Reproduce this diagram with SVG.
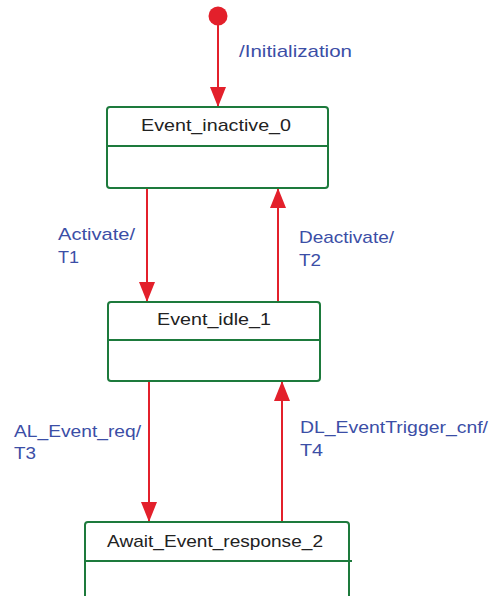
<svg xmlns="http://www.w3.org/2000/svg" width="490" height="596" viewBox="0 0 490 596">
<style>
.box{fill:#fff;stroke:#1d7a3c;stroke-width:2}
.div{stroke:#1d7a3c;stroke-width:2}
.name{font-family:"Liberation Sans",Arial,sans-serif;font-size:17px;fill:#222}
.lbl{font-family:"Liberation Sans",Arial,sans-serif;font-size:17px;fill:#3b4ea6}
.edge{stroke:#e3202b;stroke-width:2;fill:none}
</style>
<defs>
<marker id="arr" markerUnits="userSpaceOnUse" markerWidth="20" markerHeight="16" refX="20" refY="8" orient="auto">
<path d="M0,0 L20,8 L0,16 z" fill="#e3202b"/>
</marker>
</defs>
<rect width="490" height="596" fill="#fff"/>
<g id="connectors">
<circle cx="218" cy="16" r="9.5" fill="#e3202b"/>
<line class="edge" x1="218" y1="20" x2="218" y2="107" marker-end="url(#arr)"/>
<line class="edge" x1="147" y1="188" x2="147" y2="302" marker-end="url(#arr)"/>
<line class="edge" x1="278" y1="302" x2="278" y2="188" marker-end="url(#arr)"/>
<line class="edge" x1="149" y1="381" x2="149" y2="522" marker-end="url(#arr)"/>
<line class="edge" x1="282" y1="522" x2="282" y2="381" marker-end="url(#arr)"/>
<text class="lbl" x="239" y="57" textLength="113" lengthAdjust="spacingAndGlyphs">/Initialization</text>
<text class="lbl" x="58" y="240" textLength="77" lengthAdjust="spacingAndGlyphs">Activate/</text>
<text class="lbl" x="58" y="263" textLength="21" lengthAdjust="spacingAndGlyphs">T1</text>
<text class="lbl" x="299" y="243" textLength="95" lengthAdjust="spacingAndGlyphs">Deactivate/</text>
<text class="lbl" x="299" y="266" textLength="22" lengthAdjust="spacingAndGlyphs">T2</text>
<text class="lbl" x="14" y="437" textLength="127" lengthAdjust="spacingAndGlyphs">AL_Event_req/</text>
<text class="lbl" x="14" y="459" textLength="22" lengthAdjust="spacingAndGlyphs">T3</text>
<text class="lbl" x="300" y="433" textLength="188" lengthAdjust="spacingAndGlyphs">DL_EventTrigger_cnf/</text>
<text class="lbl" x="300" y="456" textLength="23" lengthAdjust="spacingAndGlyphs">T4</text>
</g>
<g id="Event_inactive_0">
<rect class="box" x="107" y="107" width="221" height="81" rx="3"/>
<line class="div" x1="107" y1="146" x2="328" y2="146"/>
<text class="name" x="141" y="131" textLength="150" lengthAdjust="spacingAndGlyphs">Event_inactive_0</text>
</g>
<g id="Event_idle_1">
<rect class="box" x="108" y="302" width="212" height="79" rx="3"/>
<line class="div" x1="108" y1="340" x2="320" y2="340"/>
<text class="name" x="157" y="325" textLength="114" lengthAdjust="spacingAndGlyphs">Event_idle_1</text>
</g>
<g id="Await_Event_response_2">
<rect class="box" x="85" y="522" width="264" height="90" rx="3"/>
<line class="div" x1="85" y1="561" x2="352" y2="561"/>
<text class="name" x="107" y="547" textLength="216" lengthAdjust="spacingAndGlyphs">Await_Event_response_2</text>
</g>
</svg>
